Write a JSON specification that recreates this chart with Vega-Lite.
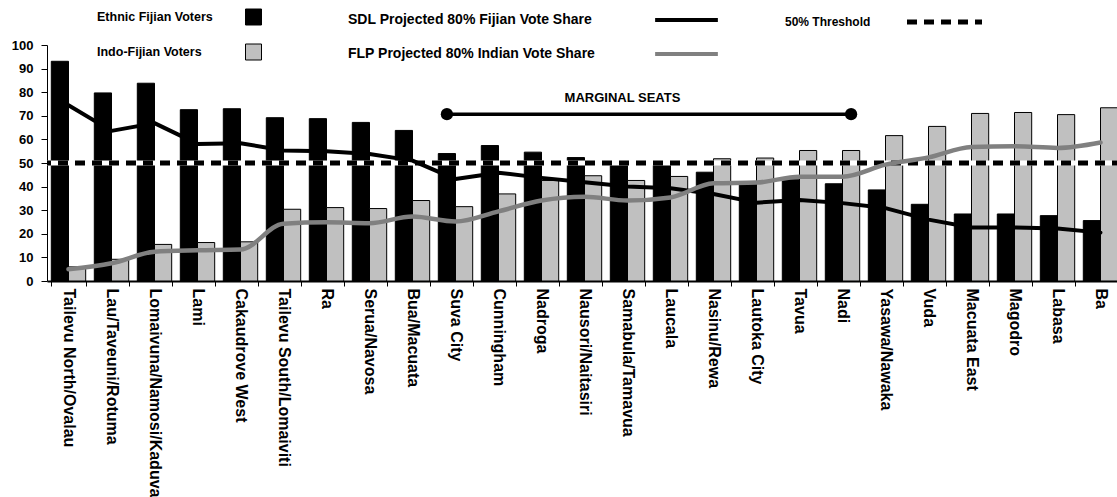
{
  "$schema": "https://vega.github.io/schema/vega-lite/v6.json",
  "width": 1075,
  "height": 236,
  "autosize": {"type": "none"},
  "padding": {"left": 47, "top": 45, "right": 0, "bottom": 216},
  "background": "white",
  "config": {
    "view": {"stroke": null},
    "font": "Liberation Sans",
    "axis": {"labelFont": "Liberation Sans", "labelFontWeight": "bold", "labelColor": "black", "domainColor": "black", "tickColor": "black", "grid": false, "labelLimit": 0},
    "legend": {"labelFont": "Liberation Sans", "labelFontWeight": "bold", "labelColor": "black", "padding": 0, "labelLimit": 0, "direction": "vertical"}
  },
  "datasets": {
    "bars": [
      {"seat": "Tailevu North/Ovalau", "group": "Ethnic Fijian Voters", "value": 93.1},
      {"seat": "Tailevu North/Ovalau", "group": "Indo-Fijian Voters", "value": 6.0},
      {"seat": "Lau/Taveuni/Rotuma", "group": "Ethnic Fijian Voters", "value": 79.7},
      {"seat": "Lau/Taveuni/Rotuma", "group": "Indo-Fijian Voters", "value": 9.2},
      {"seat": "Lomaivuna/Namosi/Kaduva", "group": "Ethnic Fijian Voters", "value": 83.8},
      {"seat": "Lomaivuna/Namosi/Kaduva", "group": "Indo-Fijian Voters", "value": 15.5},
      {"seat": "Lami", "group": "Ethnic Fijian Voters", "value": 72.6},
      {"seat": "Lami", "group": "Indo-Fijian Voters", "value": 16.3},
      {"seat": "Cakaudrove West", "group": "Ethnic Fijian Voters", "value": 73.0},
      {"seat": "Cakaudrove West", "group": "Indo-Fijian Voters", "value": 16.6},
      {"seat": "Tailevu South/Lomaiviti", "group": "Ethnic Fijian Voters", "value": 69.2},
      {"seat": "Tailevu South/Lomaiviti", "group": "Indo-Fijian Voters", "value": 30.4},
      {"seat": "Ra", "group": "Ethnic Fijian Voters", "value": 68.8},
      {"seat": "Ra", "group": "Indo-Fijian Voters", "value": 31.1},
      {"seat": "Serua/Navosa", "group": "Ethnic Fijian Voters", "value": 67.2},
      {"seat": "Serua/Navosa", "group": "Indo-Fijian Voters", "value": 30.7},
      {"seat": "Bua/Macuata", "group": "Ethnic Fijian Voters", "value": 63.8},
      {"seat": "Bua/Macuata", "group": "Indo-Fijian Voters", "value": 34.1},
      {"seat": "Suva City", "group": "Ethnic Fijian Voters", "value": 54.0},
      {"seat": "Suva City", "group": "Indo-Fijian Voters", "value": 31.5},
      {"seat": "Cunningham", "group": "Ethnic Fijian Voters", "value": 57.4},
      {"seat": "Cunningham", "group": "Indo-Fijian Voters", "value": 36.9},
      {"seat": "Nadroga", "group": "Ethnic Fijian Voters", "value": 54.6},
      {"seat": "Nadroga", "group": "Indo-Fijian Voters", "value": 42.6},
      {"seat": "Nausori/Naitasiri", "group": "Ethnic Fijian Voters", "value": 52.3},
      {"seat": "Nausori/Naitasiri", "group": "Indo-Fijian Voters", "value": 44.6},
      {"seat": "Samabula/Tamavua", "group": "Ethnic Fijian Voters", "value": 49.8},
      {"seat": "Samabula/Tamavua", "group": "Indo-Fijian Voters", "value": 42.6},
      {"seat": "Laucala", "group": "Ethnic Fijian Voters", "value": 49.2},
      {"seat": "Laucala", "group": "Indo-Fijian Voters", "value": 44.3},
      {"seat": "Nasinu/Rewa", "group": "Ethnic Fijian Voters", "value": 46.1},
      {"seat": "Nasinu/Rewa", "group": "Indo-Fijian Voters", "value": 51.8},
      {"seat": "Lautoka City", "group": "Ethnic Fijian Voters", "value": 41.0},
      {"seat": "Lautoka City", "group": "Indo-Fijian Voters", "value": 52.1},
      {"seat": "Tavua", "group": "Ethnic Fijian Voters", "value": 42.9},
      {"seat": "Tavua", "group": "Indo-Fijian Voters", "value": 55.3},
      {"seat": "Nadi", "group": "Ethnic Fijian Voters", "value": 41.2},
      {"seat": "Nadi", "group": "Indo-Fijian Voters", "value": 55.3},
      {"seat": "Yasawa/Nawaka", "group": "Ethnic Fijian Voters", "value": 38.6},
      {"seat": "Yasawa/Nawaka", "group": "Indo-Fijian Voters", "value": 61.6},
      {"seat": "Vuda", "group": "Ethnic Fijian Voters", "value": 32.5},
      {"seat": "Vuda", "group": "Indo-Fijian Voters", "value": 65.5},
      {"seat": "Macuata East", "group": "Ethnic Fijian Voters", "value": 28.4},
      {"seat": "Macuata East", "group": "Indo-Fijian Voters", "value": 71.0},
      {"seat": "Magodro", "group": "Ethnic Fijian Voters", "value": 28.4},
      {"seat": "Magodro", "group": "Indo-Fijian Voters", "value": 71.4},
      {"seat": "Labasa", "group": "Ethnic Fijian Voters", "value": 27.7},
      {"seat": "Labasa", "group": "Indo-Fijian Voters", "value": 70.5},
      {"seat": "Ba", "group": "Ethnic Fijian Voters", "value": 25.6},
      {"seat": "Ba", "group": "Indo-Fijian Voters", "value": 73.4}
    ],
    "sdl": [
      {"seat": "Tailevu North/Ovalau", "series": "SDL Projected 80% Fijian Vote Share", "value": 74.5},
      {"seat": "Lau/Taveuni/Rotuma", "series": "SDL Projected 80% Fijian Vote Share", "value": 63.6},
      {"seat": "Lomaivuna/Namosi/Kaduva", "series": "SDL Projected 80% Fijian Vote Share", "value": 66.9},
      {"seat": "Lami", "series": "SDL Projected 80% Fijian Vote Share", "value": 58.1},
      {"seat": "Cakaudrove West", "series": "SDL Projected 80% Fijian Vote Share", "value": 58.4},
      {"seat": "Tailevu South/Lomaiviti", "series": "SDL Projected 80% Fijian Vote Share", "value": 55.3},
      {"seat": "Ra", "series": "SDL Projected 80% Fijian Vote Share", "value": 55.0},
      {"seat": "Serua/Navosa", "series": "SDL Projected 80% Fijian Vote Share", "value": 53.8},
      {"seat": "Bua/Macuata", "series": "SDL Projected 80% Fijian Vote Share", "value": 51.0},
      {"seat": "Suva City", "series": "SDL Projected 80% Fijian Vote Share", "value": 43.2},
      {"seat": "Cunningham", "series": "SDL Projected 80% Fijian Vote Share", "value": 45.9},
      {"seat": "Nadroga", "series": "SDL Projected 80% Fijian Vote Share", "value": 43.7},
      {"seat": "Nausori/Naitasiri", "series": "SDL Projected 80% Fijian Vote Share", "value": 41.8},
      {"seat": "Samabula/Tamavua", "series": "SDL Projected 80% Fijian Vote Share", "value": 40.0},
      {"seat": "Laucala", "series": "SDL Projected 80% Fijian Vote Share", "value": 39.3},
      {"seat": "Nasinu/Rewa", "series": "SDL Projected 80% Fijian Vote Share", "value": 36.9},
      {"seat": "Lautoka City", "series": "SDL Projected 80% Fijian Vote Share", "value": 33.2},
      {"seat": "Tavua", "series": "SDL Projected 80% Fijian Vote Share", "value": 34.3},
      {"seat": "Nadi", "series": "SDL Projected 80% Fijian Vote Share", "value": 33.0},
      {"seat": "Yasawa/Nawaka", "series": "SDL Projected 80% Fijian Vote Share", "value": 30.9},
      {"seat": "Vuda", "series": "SDL Projected 80% Fijian Vote Share", "value": 26.0},
      {"seat": "Macuata East", "series": "SDL Projected 80% Fijian Vote Share", "value": 22.7},
      {"seat": "Magodro", "series": "SDL Projected 80% Fijian Vote Share", "value": 22.7},
      {"seat": "Labasa", "series": "SDL Projected 80% Fijian Vote Share", "value": 22.2},
      {"seat": "Ba", "series": "SDL Projected 80% Fijian Vote Share", "value": 20.5}
    ],
    "flp": [
      {"seat": "Tailevu North/Ovalau", "series": "FLP Projected 80% Indian Vote Share", "value": 5.0},
      {"seat": "Lau/Taveuni/Rotuma", "series": "FLP Projected 80% Indian Vote Share", "value": 7.5},
      {"seat": "Lomaivuna/Namosi/Kaduva", "series": "FLP Projected 80% Indian Vote Share", "value": 12.4},
      {"seat": "Lami", "series": "FLP Projected 80% Indian Vote Share", "value": 13.0},
      {"seat": "Cakaudrove West", "series": "FLP Projected 80% Indian Vote Share", "value": 13.3},
      {"seat": "Tailevu South/Lomaiviti", "series": "FLP Projected 80% Indian Vote Share", "value": 24.3},
      {"seat": "Ra", "series": "FLP Projected 80% Indian Vote Share", "value": 24.9},
      {"seat": "Serua/Navosa", "series": "FLP Projected 80% Indian Vote Share", "value": 24.5},
      {"seat": "Bua/Macuata", "series": "FLP Projected 80% Indian Vote Share", "value": 27.3},
      {"seat": "Suva City", "series": "FLP Projected 80% Indian Vote Share", "value": 25.2},
      {"seat": "Cunningham", "series": "FLP Projected 80% Indian Vote Share", "value": 29.5},
      {"seat": "Nadroga", "series": "FLP Projected 80% Indian Vote Share", "value": 34.1},
      {"seat": "Nausori/Naitasiri", "series": "FLP Projected 80% Indian Vote Share", "value": 35.7},
      {"seat": "Samabula/Tamavua", "series": "FLP Projected 80% Indian Vote Share", "value": 34.1},
      {"seat": "Laucala", "series": "FLP Projected 80% Indian Vote Share", "value": 35.4},
      {"seat": "Nasinu/Rewa", "series": "FLP Projected 80% Indian Vote Share", "value": 41.4},
      {"seat": "Lautoka City", "series": "FLP Projected 80% Indian Vote Share", "value": 41.7},
      {"seat": "Tavua", "series": "FLP Projected 80% Indian Vote Share", "value": 44.2},
      {"seat": "Nadi", "series": "FLP Projected 80% Indian Vote Share", "value": 44.2},
      {"seat": "Yasawa/Nawaka", "series": "FLP Projected 80% Indian Vote Share", "value": 49.3},
      {"seat": "Vuda", "series": "FLP Projected 80% Indian Vote Share", "value": 52.4},
      {"seat": "Macuata East", "series": "FLP Projected 80% Indian Vote Share", "value": 56.8},
      {"seat": "Magodro", "series": "FLP Projected 80% Indian Vote Share", "value": 57.1},
      {"seat": "Labasa", "series": "FLP Projected 80% Indian Vote Share", "value": 56.4},
      {"seat": "Ba", "series": "FLP Projected 80% Indian Vote Share", "value": 58.7}
    ],
    "threshold": [{"thr": "50% Threshold", "value": 50}],
    "marginal": [
      {"seat": "Suva City", "group": "Ethnic Fijian Voters", "value": 70.7},
      {"seat": "Nadi", "group": "Indo-Fijian Voters", "value": 70.7}
    ],
    "marginalLabel": [{"seat": "Samabula/Tamavua", "label": "MARGINAL SEATS", "value": 77.5}]
  },
  "encoding": {
    "y": {
      "field": "value", "type": "quantitative", "title": null,
      "scale": {"domain": [0, 100], "nice": false},
      "axis": {"title": null, "tickCount": {"signal": "10"}, "labelOverlap": false, "labelSeparation": 0, "labelBound": false, "labelFontSize": 13, "tickSize": 6, "labelPadding": 8, "domainWidth": 1}
    }
  },
  "layer": [
    {
      "data": {"name": "bars"},
      "mark": {"type": "bar", "stroke": "black", "strokeWidth": 1},
      "encoding": {
        "x": {
          "field": "seat", "type": "nominal", "title": null,
          "scale": {"domain": ["Tailevu North/Ovalau", "Lau/Taveuni/Rotuma", "Lomaivuna/Namosi/Kaduva", "Lami", "Cakaudrove West", "Tailevu South/Lomaiviti", "Ra", "Serua/Navosa", "Bua/Macuata", "Suva City", "Cunningham", "Nadroga", "Nausori/Naitasiri", "Samabula/Tamavua", "Laucala", "Nasinu/Rewa", "Lautoka City", "Tavua", "Nadi", "Yasawa/Nawaka", "Vuda", "Macuata East", "Magodro", "Labasa", "Ba"], "paddingInner": 0.2, "paddingOuter": 0.1},
          "axis": {"title": null, "labelAngle": 90, "labelAlign": "left", "labelBaseline": "middle", "labelFontSize": 16, "tickBand": "extent", "tickSize": 5, "labelPadding": 2, "domainWidth": 2, "labelLimit": 0, "labelOverlap": false}
        },
        "xOffset": {"field": "group", "type": "nominal", "scale": {"domain": ["Ethnic Fijian Voters", "Indo-Fijian Voters"], "paddingInner": 0, "paddingOuter": 0}},
        "fill": {
          "field": "group", "type": "nominal",
          "scale": {"domain": ["Ethnic Fijian Voters", "Indo-Fijian Voters"], "range": ["#000000", "#c0c0c0"]},
          "legend": {"title": null, "orient": "none", "legendX": 198, "legendY": -36.5, "symbolType": "square", "symbolSize": 256, "symbolStrokeColor": "black", "symbolStrokeWidth": 1, "labelOffset": -165, "labelFontSize": 12.5, "rowPadding": 14, "labelAlign": "left"}
        }
      }
    },
    {
      "data": {"name": "threshold"},
      "mark": {"type": "rule", "color": "white", "strokeWidth": 5},
      "encoding": {}
    },
    {
      "data": {"name": "threshold"},
      "mark": {"type": "rule", "color": "black", "strokeWidth": 5},
      "encoding": {
        "strokeDash": {
          "field": "thr", "type": "nominal",
          "scale": {"domain": ["50% Threshold"], "range": [[10, 7]]},
          "legend": {"title": null, "orient": "none", "legendX": 857.5, "legendY": -63, "symbolType": "stroke", "symbolSize": 5625, "symbolStrokeWidth": 5, "symbolStrokeColor": "black", "labelOffset": -199.5, "labelFontSize": 12, "labelAlign": "left"}
        }
      }
    },
    {
      "data": {"name": "sdl"},
      "mark": {"type": "line", "interpolate": "linear", "strokeWidth": 4, "strokeCap": "round", "strokeJoin": "round"},
      "encoding": {
        "x": {"field": "seat", "type": "nominal", "title": null, "scale": {"domain": ["Tailevu North/Ovalau", "Lau/Taveuni/Rotuma", "Lomaivuna/Namosi/Kaduva", "Lami", "Cakaudrove West", "Tailevu South/Lomaiviti", "Ra", "Serua/Navosa", "Bua/Macuata", "Suva City", "Cunningham", "Nadroga", "Nausori/Naitasiri", "Samabula/Tamavua", "Laucala", "Nasinu/Rewa", "Lautoka City", "Tavua", "Nadi", "Yasawa/Nawaka", "Vuda", "Macuata East", "Magodro", "Labasa", "Ba"]}},
        "stroke": {
          "field": "series", "type": "nominal",
          "scale": {"domain": ["SDL Projected 80% Fijian Vote Share", "FLP Projected 80% Indian Vote Share"], "range": ["#000000", "#808080"]},
          "legend": {"title": null, "orient": "none", "legendX": 629.5, "legendY": -35, "symbolType": "M-4,0H4", "symbolSize": 246, "symbolStrokeWidth": 4, "labelOffset": -348.5, "labelFontSize": 14, "rowPadding": 16, "labelAlign": "left"}
        }
      }
    },
    {
      "data": {"name": "flp"},
      "mark": {"type": "line", "interpolate": "monotone", "strokeWidth": 4.5, "strokeCap": "round"},
      "encoding": {
        "x": {"field": "seat", "type": "nominal", "title": null, "scale": {"domain": ["Tailevu North/Ovalau", "Lau/Taveuni/Rotuma", "Lomaivuna/Namosi/Kaduva", "Lami", "Cakaudrove West", "Tailevu South/Lomaiviti", "Ra", "Serua/Navosa", "Bua/Macuata", "Suva City", "Cunningham", "Nadroga", "Nausori/Naitasiri", "Samabula/Tamavua", "Laucala", "Nasinu/Rewa", "Lautoka City", "Tavua", "Nadi", "Yasawa/Nawaka", "Vuda", "Macuata East", "Magodro", "Labasa", "Ba"]}},
        "stroke": {"field": "series", "type": "nominal"}
      }
    },
    {
      "data": {"name": "marginal"},
      "mark": {"type": "line", "color": "black", "strokeWidth": 3.5},
      "encoding": {
        "x": {"field": "seat", "type": "nominal", "title": null, "scale": {"domain": ["Tailevu North/Ovalau", "Lau/Taveuni/Rotuma", "Lomaivuna/Namosi/Kaduva", "Lami", "Cakaudrove West", "Tailevu South/Lomaiviti", "Ra", "Serua/Navosa", "Bua/Macuata", "Suva City", "Cunningham", "Nadroga", "Nausori/Naitasiri", "Samabula/Tamavua", "Laucala", "Nasinu/Rewa", "Lautoka City", "Tavua", "Nadi", "Yasawa/Nawaka", "Vuda", "Macuata East", "Magodro", "Labasa", "Ba"]}},
        "xOffset": {"field": "group", "type": "nominal", "scale": {"domain": ["Ethnic Fijian Voters", "Indo-Fijian Voters"]}}
      }
    },
    {
      "data": {"name": "marginal"},
      "mark": {"type": "point", "filled": true, "color": "black", "opacity": 1, "size": 150},
      "encoding": {
        "x": {"field": "seat", "type": "nominal", "title": null, "scale": {"domain": ["Tailevu North/Ovalau", "Lau/Taveuni/Rotuma", "Lomaivuna/Namosi/Kaduva", "Lami", "Cakaudrove West", "Tailevu South/Lomaiviti", "Ra", "Serua/Navosa", "Bua/Macuata", "Suva City", "Cunningham", "Nadroga", "Nausori/Naitasiri", "Samabula/Tamavua", "Laucala", "Nasinu/Rewa", "Lautoka City", "Tavua", "Nadi", "Yasawa/Nawaka", "Vuda", "Macuata East", "Magodro", "Labasa", "Ba"]}},
        "xOffset": {"field": "group", "type": "nominal", "scale": {"domain": ["Ethnic Fijian Voters", "Indo-Fijian Voters"]}}
      }
    },
    {
      "data": {"name": "marginalLabel"},
      "mark": {"type": "text", "font": "Liberation Sans", "fontWeight": "bold", "fontSize": 13, "dx": -5, "baseline": "middle", "color": "black"},
      "encoding": {
        "x": {"field": "seat", "type": "nominal", "title": null, "scale": {"domain": ["Tailevu North/Ovalau", "Lau/Taveuni/Rotuma", "Lomaivuna/Namosi/Kaduva", "Lami", "Cakaudrove West", "Tailevu South/Lomaiviti", "Ra", "Serua/Navosa", "Bua/Macuata", "Suva City", "Cunningham", "Nadroga", "Nausori/Naitasiri", "Samabula/Tamavua", "Laucala", "Nasinu/Rewa", "Lautoka City", "Tavua", "Nadi", "Yasawa/Nawaka", "Vuda", "Macuata East", "Magodro", "Labasa", "Ba"]}},
        "text": {"field": "label", "type": "nominal"}
      }
    }
  ]
}
